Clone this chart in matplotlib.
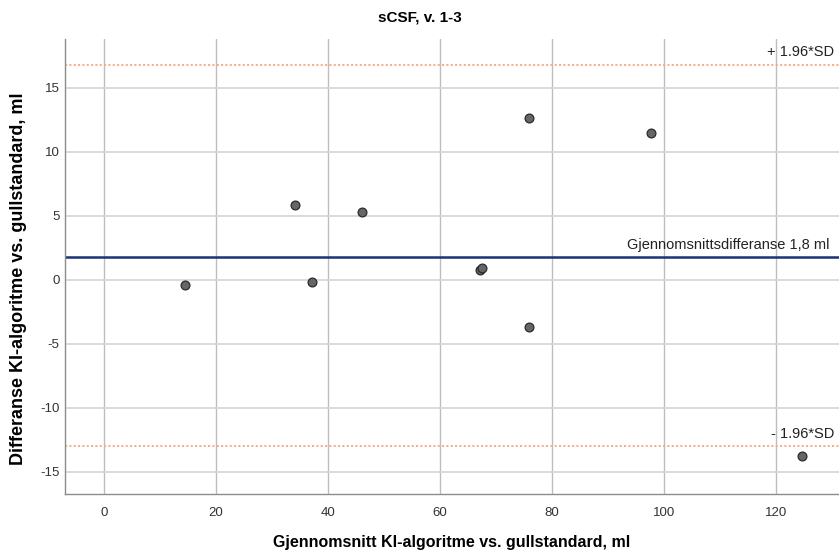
import numpy as np
import matplotlib.pyplot as plt

plt.rcParams['font.family'] = ['Liberation Sans', 'DejaVu Sans']
plt.rcParams['axes.unicode_minus'] = False

# mean of the two methods and difference between them (ml)
avg_ml = [14.5, 37.2, 34.1, 46.0, 67.2, 67.5, 75.9, 75.9, 97.6, 124.7]
diff_ml = [-0.4, -0.16, 5.86, 5.26, 0.75, 0.95, 12.63, -3.67, 11.43, -13.77]

mean_diff = 1.8
upper_loa = 16.8
lower_loa = -13.0

x_ticks = [0, 20, 40, 60, 80, 100, 120]
y_ticks = [-15, -10, -5, 0, 5, 10, 15]

fig = plt.figure(figsize=(8.39, 5.54), dpi=100)
ax = fig.add_axes([0.0775, 0.1083, 0.9225, 0.8213])

ax.set_xlim(-7, 131.25)
ax.set_ylim(-16.72, 18.8)
ax.set_xticks(x_ticks)
ax.set_yticks(y_ticks)

# grid: vertical a bit darker than horizontal
for xv in x_ticks:
    ax.axvline(xv, color='#bdbdbd', lw=1.0, zorder=0)
for yv in y_ticks:
    ax.axhline(yv, color='#d4d4d4', lw=1.2, zorder=0)

# limits of agreement and mean difference
ax.axhline(upper_loa, color='#f6a986', lw=1.3, ls=(0, (1.2, 1.2)), zorder=1)
ax.axhline(lower_loa, color='#f6a986', lw=1.3, ls=(0, (1.2, 1.2)), zorder=1)
ax.axhline(mean_diff, color='#1c3176', lw=1.8, zorder=2)

ax.scatter(avg_ml, diff_ml, s=40, color='#666666', edgecolor='#2a2a2a',
           linewidth=0.9, zorder=3)

ax.text(0.994, upper_loa + 0.4, '+ 1.96*SD', transform=ax.get_yaxis_transform(),
        ha='right', va='bottom', fontsize=10.5, color='#222222')
ax.text(0.994, lower_loa + 0.4, '- 1.96*SD', transform=ax.get_yaxis_transform(),
        ha='right', va='bottom', fontsize=10.5, color='#222222')
ax.text(0.988, mean_diff + 0.4,
        'Gjennomsnittsdifferanse ' + f'{mean_diff:.1f}'.replace('.', ',') + ' ml',
        transform=ax.get_yaxis_transform(), ha='right', va='bottom',
        fontsize=10.5, color='#222222')

for side in ['top', 'right']:
    ax.spines[side].set_visible(False)
for side in ['left', 'bottom']:
    ax.spines[side].set_color('#8c8c8c')
    ax.spines[side].set_linewidth(1.0)

ax.tick_params(length=0, labelsize=9.5, labelcolor='#333333', pad=9)
ax.tick_params(axis='y', pad=4)

fig.text(0.5, 0.969, 'sCSF, v. 1-3', ha='center', va='center',
         fontsize=11, fontweight='bold')
ax.set_xlabel('Gjennomsnitt KI-algoritme vs. gullstandard, ml', fontsize=11.5,
              fontweight='bold', labelpad=12)
fig.text(0.0225, 0.496, 'Differanse KI-algoritme vs. gullstandard, ml',
         rotation=90, ha='center', va='center', fontsize=13, fontweight='bold')

fig.savefig('out.png', dpi=100)
